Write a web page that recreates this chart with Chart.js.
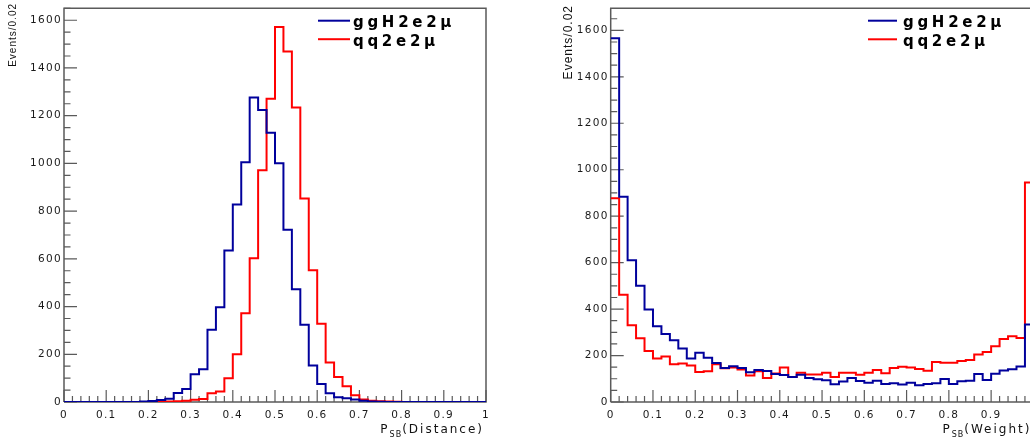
<!DOCTYPE html>
<html>
<head>
<meta charset="utf-8">
<script src="https://cdn.jsdelivr.net/npm/chart.js@4/dist/chart.umd.min.js"></script>
<style>
  html, body { margin: 0; padding: 0; background: #fff; overflow: hidden; width: 1030px; height: 443px; }
  canvas { position: absolute; top: 0; }
  #distChart { left: 0; }
  #weightChart { left: 520px; }
</style>
</head>
<body>
<canvas id="distChart" width="520" height="443"></canvas>
<canvas id="weightChart" width="530" height="443"></canvas>
<script>
// 50 bins of width 0.02 between 0 and 1
var binWidth = 0.02;
var nBins = 50;
var seriesNames = ['ggH2e2\u03bc', 'qq2e2\u03bc'];
var xTicks = [0, 0.1, 0.2, 0.3, 0.4, 0.5, 0.6, 0.7, 0.8, 0.9, 1];
var yTicks = [0, 200, 400, 600, 800, 1000, 1200, 1400, 1600];

// P_SB(Distance)
var ggDistance = [0, 0, 0, 0, 0, 0, 0, 0, 0, 2,
                  4, 8, 14, 38, 54, 116, 137, 303, 397, 635,
                  828, 1005, 1276, 1224, 1128, 1001, 722, 473, 324, 153,
                  75, 37, 20, 16, 11, 5, 2, 1, 0, 0,
                  0, 0, 0, 0, 0, 0, 0, 0, 0, 0];
var qqDistance = [0, 0, 0, 0, 0, 0, 0, 0, 0, 0,
                  1, 1, 2, 3, 5, 9, 13, 37, 44, 100,
                  200, 372, 602, 971, 1271, 1572, 1469, 1234, 853, 552,
                  328, 166, 105, 66, 28, 11, 5, 3, 2, 1,
                  0, 0, 0, 0, 0, 0, 0, 0, 0, 0];

// P_SB(Weight)
var ggWeight = [1566, 884, 610, 500, 398, 326, 293, 266, 230, 187,
                212, 190, 168, 146, 154, 146, 128, 138, 133, 121,
                116, 108, 117, 103, 98, 94, 76, 88, 103, 90,
                83, 92, 78, 81, 75, 83, 72, 78, 81, 99,
                78, 89, 92, 121, 95, 122, 136, 141, 153, 334];
var qqWeight = [877, 462, 330, 275, 220, 187, 196, 162, 166, 157,
                129, 132, 163, 145, 149, 140, 114, 132, 103, 123,
                149, 108, 126, 118, 118, 126, 108, 126, 126, 117,
                126, 138, 124, 146, 152, 148, 142, 135, 172, 169,
                169, 177, 181, 204, 215, 240, 271, 283, 276, 945];

function steps(vals) {
  var pts = vals.map(function (v, i) { return { x: i * binWidth, y: v }; });
  pts.push({ x: nBins * binWidth, y: vals[vals.length - 1] });
  return pts;
}

var tickFont = { family: 'DejaVu Sans', size: 10.5 };

var rootDecor = {
  id: 'rootDecor',
  beforeDraw: function (chart) {
    chart.ctx.letterSpacing = '1.3px';
  },
  beforeDatasetsDraw: function (chart) {
    var ctx = chart.ctx, a = chart.chartArea, xs = chart.scales.x, ys = chart.scales.y;
    ctx.save();
    ctx.letterSpacing = '0px';
    ctx.strokeStyle = '#5a5a5a';
    ctx.lineWidth = 1.5;
    ctx.beginPath();
    ctx.moveTo(a.left, a.bottom);
    ctx.lineTo(a.left, a.top);
    ctx.lineTo(a.right, a.top);
    ctx.lineTo(a.right, a.bottom);
    ctx.lineTo(a.left, a.bottom);
    ctx.stroke();
    ctx.lineWidth = 1.2;
    ctx.beginPath();
    for (var i = 0; i <= nBins; i++) {
      var px = xs.getPixelForValue(i * binWidth);
      var len = (i % 5 === 0) ? 12 : 6;
      ctx.moveTo(px, a.bottom);
      ctx.lineTo(px, a.bottom - len);
    }
    for (var v = 0; v <= ys.max; v += 50) {
      var py = ys.getPixelForValue(v);
      var l2 = (v % 200 === 0) ? 13 : 6.5;
      ctx.moveTo(a.left, py);
      ctx.lineTo(a.left + l2, py);
    }
    ctx.stroke();
    ctx.restore();
  },
  afterDraw: function (chart, args, o) {
    var ctx = chart.ctx, a = chart.chartArea;
    ctx.save();
    ctx.fillStyle = '#111';
    // y title, rotated, aligned to the top of the axis
    ctx.save();
    ctx.translate(o.yTitleX, o.yTitleY);
    ctx.rotate(-Math.PI / 2);
    ctx.font = o.yTitleSize + 'px "Liberation Sans"';
    ctx.letterSpacing = '1px';
    ctx.textAlign = 'right';
    ctx.textBaseline = 'alphabetic';
    ctx.fillText('Events/0.02', 0, 0);
    ctx.restore();

    // x title with subscript, aligned to the right end of the axis
    ctx.textAlign = 'left';
    ctx.textBaseline = 'alphabetic';
    ctx.letterSpacing = '2px';
    var mainFont = '12px "DejaVu Sans"', subFont = '8px "DejaVu Sans"';
    ctx.font = mainFont;
    var wP = ctx.measureText('P').width;
    var wRest = ctx.measureText(o.xTitle).width;
    ctx.font = subFont;
    ctx.letterSpacing = '1px';
    var wSub = ctx.measureText('SB').width;
    var x0 = a.right - 2 - (wP + wSub + wRest);
    var base = 432.5;
    ctx.font = mainFont; ctx.letterSpacing = '2px';
    ctx.fillText('P', x0, base);
    ctx.font = subFont; ctx.letterSpacing = '1px';
    ctx.fillText('SB', x0 + wP, base + 4);
    ctx.font = mainFont; ctx.letterSpacing = '2px';
    ctx.fillText(o.xTitle, x0 + wP + wSub, base);

    // legend
    ctx.font = 'bold 15px "DejaVu Sans"';
    ctx.letterSpacing = '3.7px';
    chart.data.datasets.forEach(function (ds, i) {
      var ry = o.legendY[i];
      ctx.strokeStyle = ds.borderColor;
      ctx.lineWidth = 2;
      ctx.beginPath();
      ctx.moveTo(o.legendX0, ry);
      ctx.lineTo(o.legendX1, ry);
      ctx.stroke();
      ctx.fillStyle = '#000';
      ctx.fillText(ds.label, o.legendTextX, ry + 6.6);
    });
    ctx.restore();
  }
};

function histChart(id, gg, qq, p) {
  return new Chart(document.getElementById(id), {
    type: 'line',
    data: {
      datasets: [
        { label: seriesNames[0], data: steps(gg), borderColor: '#00009c', borderWidth: 2,
          stepped: 'before', pointRadius: 0, fill: false },
        { label: seriesNames[1], data: steps(qq), borderColor: '#ff0000', borderWidth: 2,
          stepped: 'before', pointRadius: 0, fill: false }
      ]
    },
    options: {
      responsive: false,
      animation: false,
      layout: { padding: { left: 0, top: 5, right: p.padRight, bottom: 0 } },
      plugins: {
        legend: { display: false },
        tooltip: { enabled: false },
        rootDecor: p.decor
      },
      scales: {
        x: {
          type: 'linear', min: 0, max: 1,
          ticks: { padding: 7, maxRotation: 0, autoSkip: false, font: tickFont, color: '#1a1a1a',
                   callback: function (v) { return String(v); } },
          grid: { display: false, drawTicks: false },
          border: { display: false },
          afterBuildTicks: function (s) { s.ticks = xTicks.map(function (v) { return { value: v }; }); },
          afterFit: function (s) { s.height = 41; }
        },
        y: {
          min: 0, max: p.ymax,
          ticks: { padding: 2, autoSkip: false, font: tickFont, color: '#1a1a1a',
                   callback: function (v) { return String(v); } },
          grid: { display: false, drawTicks: false },
          border: { display: false },
          afterBuildTicks: function (s) { s.ticks = yTicks.map(function (v) { return { value: v }; }); },
          afterFit: function (s) { s.width = p.yWidth; }
        }
      }
    },
    plugins: [rootDecor]
  });
}

histChart('distChart', ggDistance, qqDistance, {
  ymax: 1650, yWidth: 64, padRight: 34,
  decor: { xTitle: '(Distance)', yTitleX: 16, yTitleY: 3, yTitleSize: 10,
           legendX0: 318, legendX1: 350, legendTextX: 353, legendY: [20.7, 39.2] }
});
histChart('weightChart', ggWeight, qqWeight, {
  ymax: 1695, yWidth: 90.7, padRight: 16.6,
  decor: { xTitle: '(Weight)', yTitleX: 52, yTitleY: 5, yTitleSize: 12,
           legendX0: 348, legendX1: 377, legendTextX: 383, legendY: [20.7, 39.3] }
});
</script>
</body>
</html>
